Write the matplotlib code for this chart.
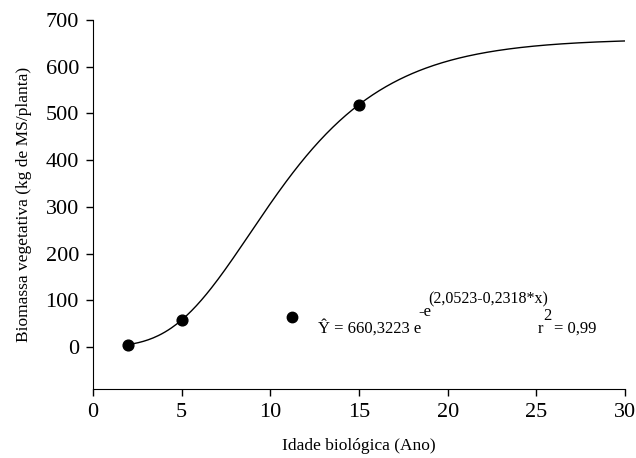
import numpy as np
import matplotlib
matplotlib.use("Agg")
import matplotlib.pyplot as plt
from matplotlib.lines import Line2D

# Observed data
idade = [2, 5, 15]
biomassa = [5, 57, 519]

# Fitted Gompertz model parameters (from the equation in the chart)
a_par = 660.3223
b_par = 2.0523
c_par = 0.2318
r2 = 0.99

x_ticks = [0, 5, 10, 15, 20, 25, 30]
y_ticks = [0, 100, 200, 300, 400, 500, 600, 700]

plt.rcParams['font.family'] = ['Liberation Serif', 'DejaVu Serif']

fig = plt.figure(figsize=(6.36, 4.58), dpi=100)
ax = fig.add_axes([0.146, 0.151, 0.837, 0.805])

xc = np.linspace(2, 30, 300)
yc = a_par * np.exp(-np.exp(b_par - c_par * xc))
ax.plot(xc, yc, color='black', lw=1.0)
ax.scatter(idade, biomassa, s=60, color='black', zorder=3)

ax.set_xlim(0, 30)
ax.set_ylim(-90, 700)
ax.set_xticks(x_ticks)
ax.set_yticks(y_ticks)
ax.tick_params(labelsize=16, direction='out', length=5, width=1, pad=5)
ax.spines['top'].set_visible(False)
ax.spines['right'].set_visible(False)
ax.set_xlabel('Idade biológica (Ano)', fontsize=12.5, labelpad=12)
ax.set_ylabel('Biomassa vegetativa (kg de MS/planta)', fontsize=12.5, labelpad=10)

# legend key marker
handle = Line2D([], [], marker='o', color='black', linestyle='None', markersize=7.5)
ax.legend([handle], [''], loc='center', bbox_to_anchor=(0.374, 0.192),
          frameon=False, handlelength=1, handletextpad=0, borderpad=0, borderaxespad=0)

# equation text
fs = 12
T = ax.transAxes
ax.text(0.423, 0.152, 'Ŷ = 660,3223 e', transform=T, fontsize=fs, va='baseline')
ax.text(0.611, 0.197, '-e', transform=T, fontsize=fs, va='baseline')
ax.text(0.630, 0.232, '(2,0523-0,2318*x)', transform=T, fontsize=11.5, va='baseline')
ax.text(0.835, 0.152, 'r', transform=T, fontsize=fs, va='baseline')
ax.text(0.847, 0.186, '2', transform=T, fontsize=fs, va='baseline')
ax.text(0.866, 0.152, f'= {r2:.2f}'.replace('.', ','), transform=T, fontsize=fs, va='baseline')

fig.savefig('out.png', dpi=100)
